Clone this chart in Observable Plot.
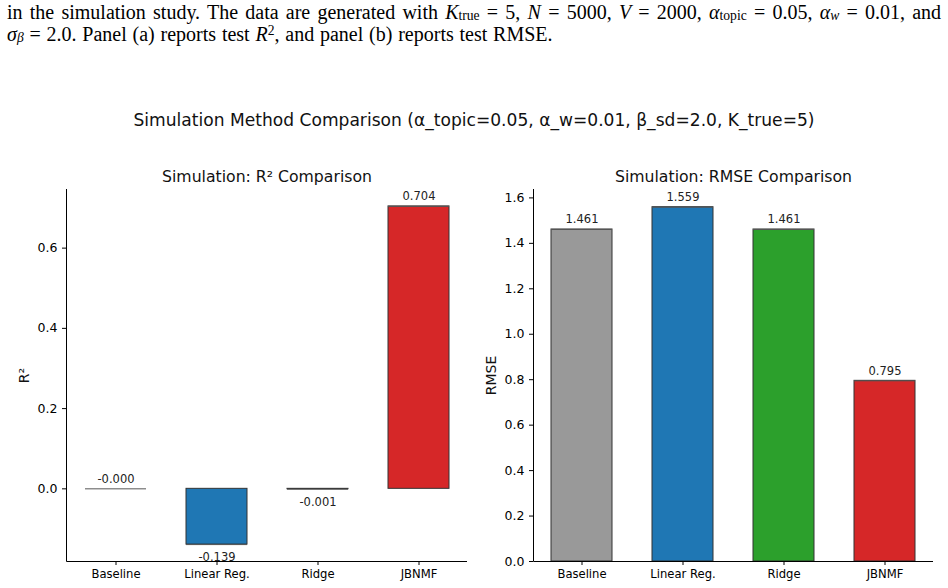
<!DOCTYPE html>
<html><head><meta charset="utf-8">
<script src="https://cdn.jsdelivr.net/npm/d3@7"></script>
<script src="https://cdn.jsdelivr.net/npm/@observablehq/plot@0.6"></script>
<style>
body{margin:0;background:#fff;}
#fig{position:relative;width:948px;height:588px;overflow:hidden;font-family:"DejaVu Sans",sans-serif;background:#fff;}
.cap{position:absolute;left:7px;font-family:"Liberation Serif","Times New Roman",serif;font-size:20px;line-height:21px;color:#000;white-space:nowrap;}
.cap sub,.cap sup{font-size:68%;line-height:0;position:relative;vertical-align:baseline;}
.cap sub{top:0.1em;}
.cap sup{top:-0.45em;}
#l1{top:1.5px;width:934px;line-height:20px;text-align:justify;text-align-last:justify;}
#l2{top:23.7px;word-spacing:0.8px;}
#sup{position:absolute;top:110px;left:0;width:948px;text-align:center;font-size:17.1px;line-height:20px;color:#111;}
#left,#right{position:absolute;top:160px;}
#left{left:0}
#right{left:474px}
#fig svg g[aria-label="y-axis tick label"]{font-size:12.5px;}
#fig svg g[aria-label="x-axis tick label"]{font-size:11.6px;}
</style></head>
<body>
<div id="fig">
  <div class="cap" id="l1">in the simulation study. The data are generated with <i>K</i><sub>true</sub> = 5, <i>N</i> = 5000, <i>V</i> = 2000, <i>α</i><sub>topic</sub> = 0.05, <i>α</i><sub><i>w</i></sub> = 0.01, and</div>
  <div class="cap" id="l2"><i>σ</i><sub><i>β</i></sub> = 2.0. Panel (a) reports test <i>R</i><sup>2</sup>, and panel (b) reports test RMSE.</div>
  <div id="sup">Simulation Method Comparison (α_topic=0.05, α_w=0.01, β_sd=2.0, K_true=5)</div>
  <div id="left"></div>
  <div id="right"></div>
</div>
<script>
const methods = ["Baseline", "Linear Reg.", "Ridge", "JBNMF"];
const colors = ["#999999", "#1f77b4", "#2ca02c", "#d62728"];
const r2 = [-0.0, -0.139, -0.001, 0.704];
const rmse = [1.461, 1.559, 1.461, 0.795];
const r2Ticks = [0, 0.2, 0.4, 0.6];
const rmseTicks = [0, 0.2, 0.4, 0.6, 0.8, 1.0, 1.2, 1.4, 1.6];

const fmt = v => ((v < 0 || Object.is(v, -0)) ? "-" : "") + Math.abs(v).toFixed(3);

function spines() {
  return (index, scales, values, dims) => {
    const g = d3.create("svg:g").attr("stroke", "black").attr("stroke-width", 1);
    const x0 = dims.marginLeft + 0.5;
    const yb = dims.height - dims.marginBottom + 0.5;
    g.append("line").attr("x1", x0).attr("x2", x0).attr("y1", dims.marginTop).attr("y2", yb);
    g.append("line").attr("x1", x0).attr("x2", dims.width - dims.marginRight).attr("y1", yb).attr("y2", yb);
    return g.node();
  };
}

function panel(values, ticks, domain, title, ylabel, marginLeft, marginRight) {
  const data = methods.map((m, i) => ({m, v: values[i]}));
  return Plot.plot({
    width: 474,
    height: 428,
    marginTop: 29,
    marginBottom: 27,
    marginLeft,
    marginRight,
    style: {fontFamily: "DejaVu Sans, sans-serif", color: "black", background: "white", overflow: "visible"},
    x: {domain: methods, paddingInner: 0.4, paddingOuter: 0.18, label: null},
    y: {domain, label: null},
    color: {domain: methods, range: colors},
    marks: [
      Plot.barY(data, {x: "m", y: "v", fill: "m", stroke: "#333", strokeWidth: 1}),
      Plot.tickY(data, {x: "m", y: "v", stroke: "#555", strokeWidth: 1}),
      Plot.text(data.filter(d => d.v >= 0), {x: "m", y: "v", text: d => fmt(d.v), dy: -10, fontSize: 11.5, fill: "#222"}),
      Plot.text(data.filter(d => !(d.v >= 0)), {x: "m", y: "v", text: d => fmt(d.v), dy: 13, fontSize: 11.5, fill: "#222"}),
      Plot.axisY({ticks, tickFormat: d3.format(".1f"), tickSize: 4, tickPadding: 5, label: null}),
      Plot.axisX({tickSize: 4, tickPadding: 4, label: null}),
      spines(),
      Plot.text([title], {frameAnchor: "top", lineAnchor: "middle", dy: -13, fontSize: 15.7, fill: "#111"}),
      Plot.text([ylabel], {frameAnchor: "left", textAnchor: "middle", lineAnchor: "middle", dx: -42, rotate: -90, fontSize: 14, fill: "#111"})
    ]
  });
}

const r2min = d3.min(r2), r2max = d3.max(r2), r2pad = 0.05 * (r2max - r2min);
document.getElementById("left").append(
  panel(r2, r2Ticks, [r2min - r2pad, r2max + r2pad], "Simulation: R² Comparison", "R²", 66, 7)
);
const rmax = d3.max(rmse);
document.getElementById("right").append(
  panel(rmse, rmseTicks, [0, rmax * 1.05], "Simulation: RMSE Comparison", "RMSE", 59, 15)
);
</script>
</body></html>
